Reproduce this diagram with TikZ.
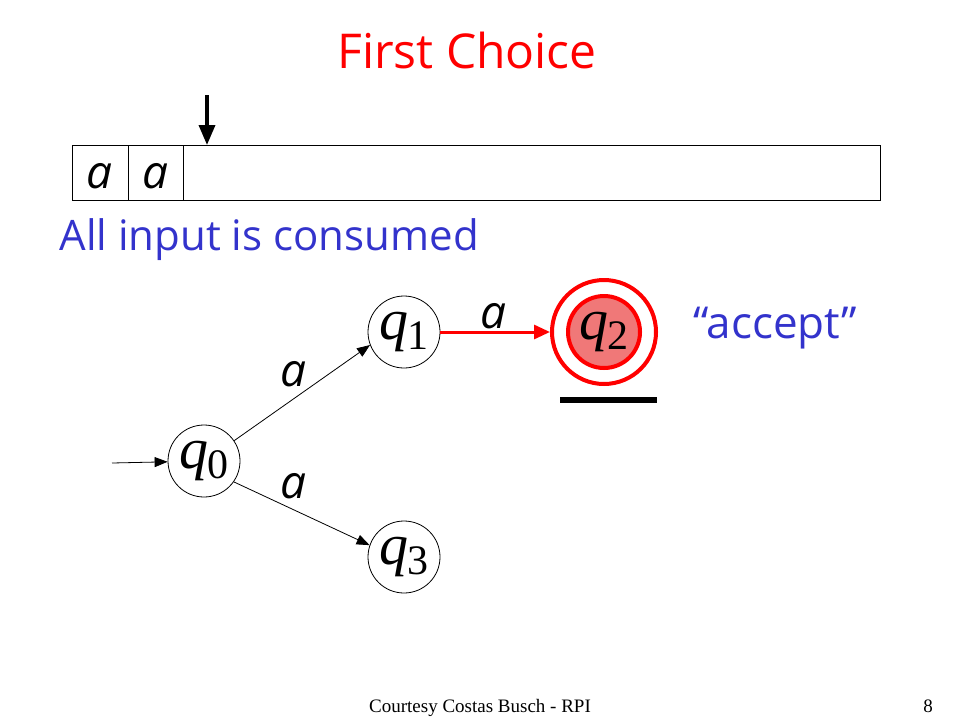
\documentclass[tikz,border=0pt]{standalone}
\usepackage{fontspec}
\setmainfont{Open Sans}
\newfontfamily\tms{Liberation Serif}
\usetikzlibrary{arrows.meta}
\definecolor{ttlred}{RGB}{255,0,0}
\definecolor{txtblue}{RGB}{51,51,204}
\definecolor{accfill}{RGB}{240,120,120}
\tikzset{
  state/.style={circle,draw=black,line width=0.8pt,minimum size=72pt,inner sep=0pt,fill=white},
  edge/.style={-{Triangle[length=13pt,width=10pt]},line width=0.8pt},
  lbl/.style={font=\fontsize{46}{46}\selectfont\itshape,inner sep=0pt},
}
\newcommand{\qlab}[1]{{\tms\fontsize{58}{58}\selectfont\itshape q\kern-1pt\raisebox{-10pt}{\upshape\fontsize{42}{42}\selectfont #1}}}
\begin{document}
\begin{tikzpicture}[x=1pt,y=-1pt]
\useasboundingbox (0,0) rectangle (960,720);
% title
\node[text=ttlred,font=\fontsize{48}{48}\selectfont] (title) at (467,50) {First Choice};
% tape
\node[draw,line width=0.8pt,minimum width=808pt,minimum height=55pt,inner sep=0pt,anchor=north west] (tape) at (72,145) {};
\draw[line width=0.8pt] (128,145) -- (128,200) (183,145) -- (183,200);
\node[lbl] (c1) at (100,176) {a};
\node[lbl] (c2) at (156,176) {a};
\coordinate (headtop) at (207,95);
\coordinate (headbot) at (207,145);
\draw[-{Triangle[length=20pt,width=16pt]},line width=3.5pt] (headtop) -- (headbot);
% caption
\node[text=txtblue,font=\fontsize{42}{42}\selectfont,anchor=west] (cons) at (56,240) {All input is consumed};
% states
\node[state] (q0) at (204,461) {\qlab{0}};
\node[state] (q1) at (404,332) {\qlab{1}};
\node[state] (q3) at (404,557) {\qlab{3}};
\node[circle,draw=ttlred,line width=4pt,minimum size=104pt,inner sep=0pt] (q2o) at (604,332) {};
\node[circle,draw=ttlred,line width=4pt,fill=accfill,minimum size=72pt,inner sep=0pt] (q2) at (604,332) {\qlab{2}};
\coordinate (barl) at (560,400);
\coordinate (barr) at (657,400);
\draw[line width=6pt] (barl) -- (barr);
% initial
\coordinate (init) at (112,463);
\draw[edge] (init) -- (q0);
\draw[edge] (q0.34) -- (q1.201);
\draw[edge] (q0.-35) -- (q3.161);
\node[lbl] (l1) at (293,374) {a};
\node[lbl] (l3) at (293,486) {a};
\draw[-{Triangle[length=16pt,width=14pt]},line width=3pt,draw=ttlred,fill=ttlred] (q1) -- (q2o);
\node[lbl] (l2) at (493,316) {a};
\node[text=txtblue,font=\fontsize{44}{44}\selectfont] (acc) at (775,328) {``accept''};
% footer
\node[font=\tms\fontsize{19}{19}\selectfont,anchor=base] (foot) at (480,712) {Courtesy Costas Busch - RPI};
\node[font=\tms\fontsize{19}{19}\selectfont,anchor=base] (pg) at (928,712) {8};
\end{tikzpicture}
\end{document}
